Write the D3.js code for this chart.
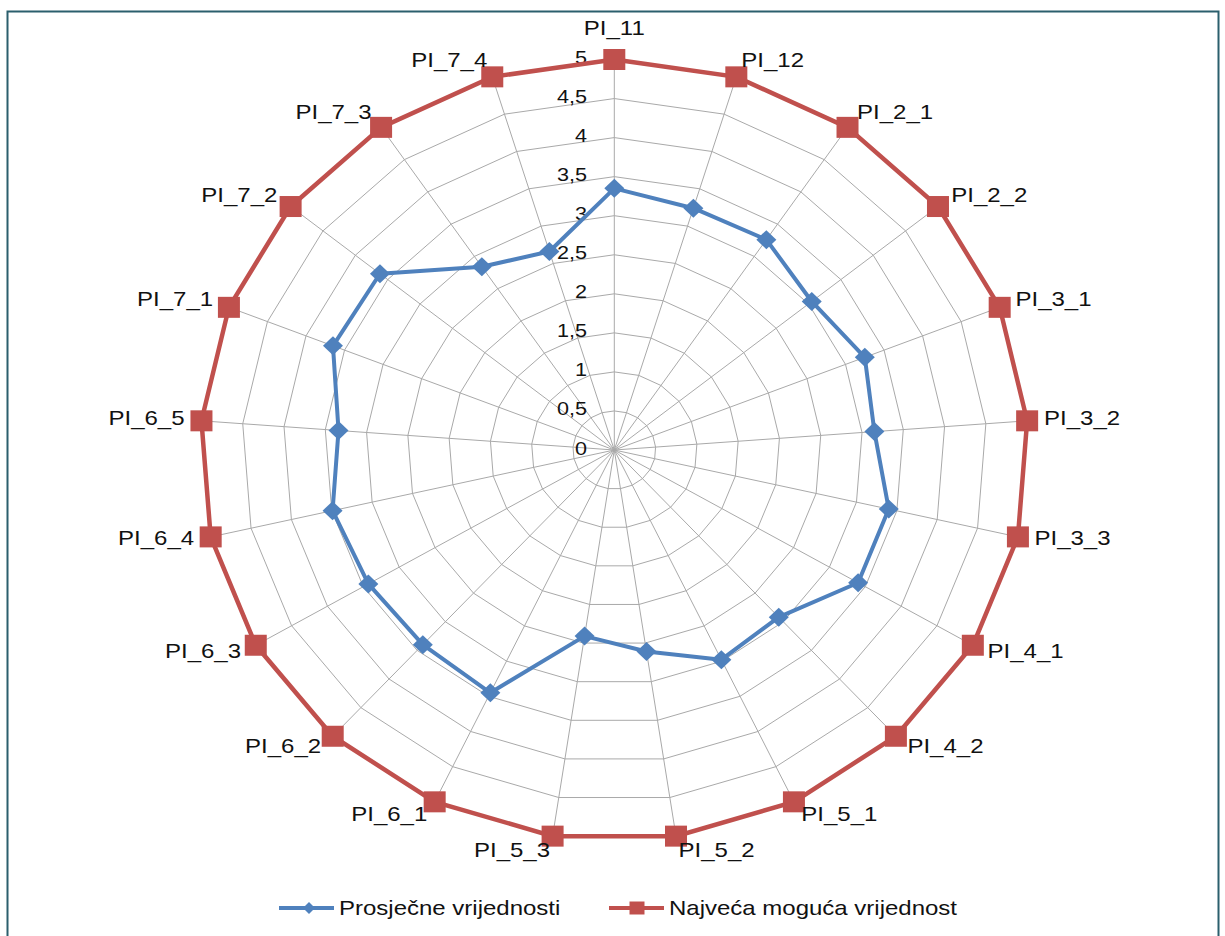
<!DOCTYPE html>
<html lang="hr">
  <head>
    <meta charset="utf-8">
    <title>Prosječne vrijednosti PI</title>
    <style>
    body {
        margin: 0;
        background: #ffffff;
    }

    .frame {
        fill: none;
        stroke: #2b5f6d;
        stroke-width: 2;
    }

    .grid {
        fill: none;
        stroke: #a9a9a9;
        stroke-width: 1;
    }

    .tickText, .catText, .legendText {
        font-family: "Liberation Sans", Arial, sans-serif;
        fill: #111111;
    }

    .tickText { font-size: 18px; }
    .catText { font-size: 20px; }
    .legendText { font-size: 20px; }
    </style>
  </head>
  <body>
    <div id="radar"></div>
    <script src="https://d3js.org/d3.v7.min.js"></script>
    <script>

    // chart data
    var categories = ["PI_11", "PI_12", "PI_2_1", "PI_2_2", "PI_3_1", "PI_3_2", "PI_3_3",
                      "PI_4_1", "PI_4_2", "PI_5_1", "PI_5_2", "PI_5_3", "PI_6_1", "PI_6_2",
                      "PI_6_3", "PI_6_4", "PI_6_5", "PI_7_1", "PI_7_2", "PI_7_3", "PI_7_4"];

    var prosjecne = [3.35, 3.24, 3.26, 3.05, 3.25, 3.15, 3.40,
                     3.40, 2.92, 2.98, 2.61, 2.41, 3.45, 3.40,
                     3.43, 3.49, 3.34, 3.65, 3.62, 2.84, 2.66];

    var najveca = [5, 5, 5, 5, 5, 5, 5,
                   5, 5, 5, 5, 5, 5, 5,
                   5, 5, 5, 5, 5, 5, 5];

    var tickValues = [0, 0.5, 1, 1.5, 2, 2.5, 3, 3.5, 4, 4.5, 5];
    var tickLabels = ["0", "0,5", "1", "1,5", "2", "2,5", "3", "3,5", "4", "4,5", "5"];

    var seriesNames = ["Prosječne vrijednosti", "Najveća moguća vrijednost"];

    // layout
    var width = 1225, height = 936;
    var cx = 614.3, cy = 450;
    var rx = 414, ry = 390.5;
    var textStretch = 1.2;
    var blue = "#4f81bd", red = "#c0504d";

    var svg = d3.select("#radar")
                .append("svg")
                .attr("width", width)
                .attr("height", height);

    svg.append("rect")
       .attr("x", 7.5)
       .attr("y", 11.5)
       .attr("width", 1211)
       .attr("height", 960)
       .classed("frame", true);

    var rScale = d3.scaleLinear().domain([0, 5]).range([0, 1]);
    var aScale = d3.scaleLinear().domain([0, categories.length]).range([0, 2 * Math.PI]);

    function px(i, v) { return cx + rScale(v) * rx * Math.sin(aScale(i)); }
    function py(i, v) { return cy - rScale(v) * ry * Math.cos(aScale(i)); }

    var closedLine = d3.line()
                       .x(function(d) { return px(d.i, d.v); })
                       .y(function(d) { return py(d.i, d.v); })
                       .curve(d3.curveLinearClosed);

    function toPoints(values) {
        return values.map(function(v, i) { return {i: i, v: v}; });
    }

    var plt = svg.append("g");

    // rings
    plt.selectAll(".ring")
       .data(tickValues.filter(function(t) { return t > 0; }))
       .enter()
       .append("path")
       .attr("d", function(t) {
            return closedLine(categories.map(function(c, i) { return {i: i, v: t}; }));
       })
       .classed("grid", true);

    // spokes
    plt.selectAll(".spoke")
       .data(categories)
       .enter()
       .append("line")
       .attr("x1", cx)
       .attr("y1", cy)
       .attr("x2", function(d, i) { return px(i, 5); })
       .attr("y2", function(d, i) { return py(i, 5); })
       .classed("grid", true);

    // tick labels
    plt.selectAll(".tickText")
       .data(tickValues)
       .enter()
       .append("text")
       .attr("transform", function(t) {
            return "translate(587," + (py(0, t) + 4.5) + ") scale(" + textStretch + ",1)";
       })
       .attr("text-anchor", "end")
       .text(function(t, i) { return tickLabels[i]; })
       .classed("tickText", true);

    // blue series
    plt.append("path")
       .attr("d", closedLine(toPoints(prosjecne)))
       .style("fill", "none")
       .style("stroke", blue)
       .style("stroke-width", 4)
       .style("stroke-linejoin", "round");

    plt.selectAll(".diamond")
       .data(toPoints(prosjecne))
       .enter()
       .append("path")
       .attr("d", function(d) {
            var x = px(d.i, d.v), y = py(d.i, d.v);
            return "M" + x + "," + (y - 9.5) + "L" + (x + 10) + "," + y +
                   "L" + x + "," + (y + 9.5) + "L" + (x - 10) + "," + y + "Z";
       })
       .style("fill", blue);

    // red series
    plt.append("path")
       .attr("d", closedLine(toPoints(najveca)))
       .style("fill", "none")
       .style("stroke", red)
       .style("stroke-width", 4.5);

    plt.selectAll(".square")
       .data(toPoints(najveca))
       .enter()
       .append("rect")
       .attr("x", function(d) { return px(d.i, d.v) - 11; })
       .attr("y", function(d) { return py(d.i, d.v) - 10.5; })
       .attr("width", 22)
       .attr("height", 21)
       .style("fill", red);

    // category labels
    plt.selectAll(".catText")
       .data(categories)
       .enter()
       .append("text")
       .attr("text-anchor", function(d, i) {
            var s = Math.sin(aScale(i));
            if (Math.abs(s) < 0.05) return "middle";
            return s > 0 ? "start" : "end";
       })
       .attr("transform", function(d, i) {
            var a = aScale(i), s = Math.sin(a), c = Math.cos(a);
            var x = px(i, 5), y = py(i, 5);
            if (Math.abs(s) < 0.05) {
                y = y - 24.5;
            } else {
                x = x + 17 * s;
                y = y - 16 * c + 5;
            }
            return "translate(" + x + "," + y + ") scale(" + textStretch + ",1)";
       })
       .text(function(d) { return d; })
       .classed("catText", true);

    // legend
    var legendItems = [
        {name: seriesNames[0], color: blue, x: 279, marker: "diamond"},
        {name: seriesNames[1], color: red, x: 609, marker: "square"}
    ];
    var ly = 908;

    var legend = svg.selectAll(".legend")
                    .data(legendItems)
                    .enter()
                    .append("g")
                    .attr("transform", function(d) { return "translate(" + d.x + "," + ly + ")"; });

    legend.append("line")
          .attr("x1", 0)
          .attr("x2", 55)
          .attr("y1", 0)
          .attr("y2", 0)
          .style("stroke", function(d) { return d.color; })
          .style("stroke-width", 4);

    legend.append("path")
          .attr("d", function(d) {
                if (d.marker === "diamond") return "M30,-6L36,0L30,6L24,0Z";
                return "M20.5,-6.5L35.5,-6.5L35.5,6.5L20.5,6.5Z";
          })
          .style("fill", function(d) { return d.color; });

    legend.append("text")
          .attr("transform", "translate(60,7) scale(" + textStretch + ",1)")
          .text(function(d) { return d.name; })
          .classed("legendText", true);

    </script>
  </body>
</html>
